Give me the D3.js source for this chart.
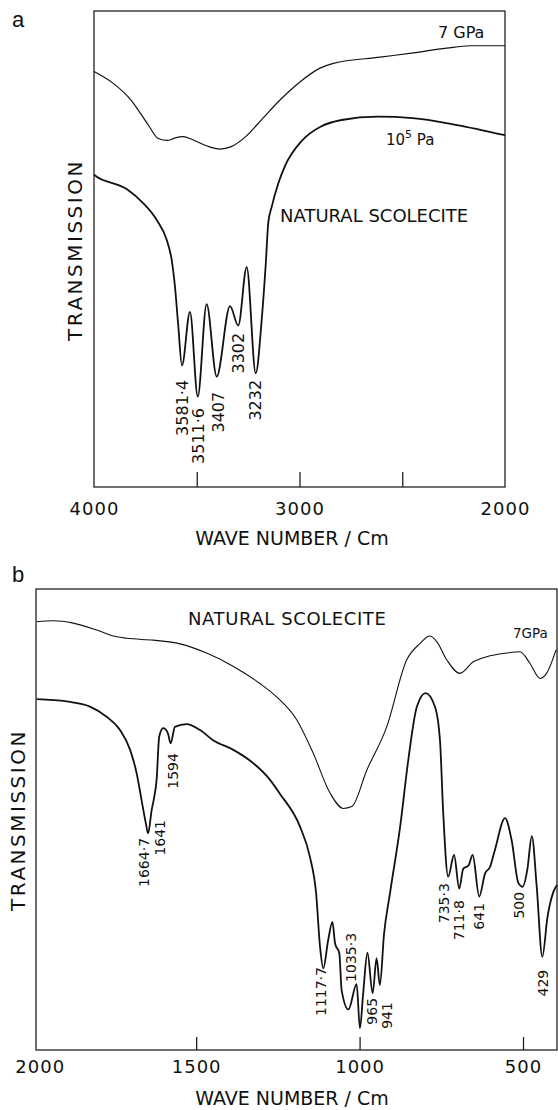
<!doctype html>
<html lang="en">
<head>
<meta charset="utf-8">
<script src="https://d3js.org/d3.v7.min.js"></script>
<style>
  body { margin: 0; background: #fff; }
  svg text { font-family: "DejaVu Sans", sans-serif; fill: #111; }
</style>
</head>
<body>
<script>
// ---- panel a : 4000 - 2000 cm-1 ----
var aWave7 = [4000, 3906, 3820, 3735, 3687, 3643, 3609, 3565, 3522, 3453, 3387, 3332, 3262, 3180, 3095, 2998, 2900, 2835, 2608, 2446, 2284, 2170, 2000];
var aTrans7 = [87.3, 84.8, 81.3, 76.0, 73.2, 72.8, 73.3, 73.6, 73.0, 71.7, 71.0, 71.5, 73.6, 77.4, 81.3, 85.1, 88.0, 89.0, 90.3, 91.2, 92.2, 92.7, 92.7];

var aWave0 = [4000, 3987, 3841, 3760, 3695, 3646, 3622, 3606, 3590, 3572, 3533, 3495, 3452, 3403, 3338, 3298, 3257, 3213, 3184, 3164, 3152, 3135, 3103, 3072, 2985, 2898, 2795, 2621, 2449, 2240, 2000];
var aTrans0 = [65.6, 65.2, 62.6, 59.6, 56.1, 51.9, 47.7, 42.1, 33.9, 25.5, 36.8, 19.0, 38.4, 23.2, 38.0, 33.9, 46.2, 23.9, 35.1, 47.0, 55.5, 58.9, 63.8, 67.3, 72.9, 75.7, 77.1, 77.8, 77.5, 76.1, 73.9];

var aPeakText = ["3581·4", "3511·6", "3407", "3302", "3232"];
var aPeakWave = [3573, 3494, 3397, 3299, 3217];
var aPeakTop = [22.5, 16.6, 20.0, 32.4, 22.5];

var aTickMarks = [3500, 3000, 2500];
var aTickLabels = [4000, 3000, 2000];

// ---- panel b : 2000 - 400 cm-1 ----
var bWave7 = [1988, 1937, 1876, 1804, 1753, 1712, 1631, 1549, 1468, 1386, 1305, 1254, 1192, 1142, 1090, 1050, 1024, 978, 917, 856, 815, 785, 764, 733, 693, 652, 611, 550, 509, 479, 448, 428, 399];
var bTrans7 = [92.9, 93.1, 92.6, 91.1, 89.8, 89.3, 88.9, 88.1, 86.1, 83.2, 79.5, 76.6, 71.6, 64.4, 55.7, 52.4, 52.8, 60.7, 70.1, 84.6, 88.2, 89.8, 88.6, 84.6, 81.7, 84.2, 85.3, 86.1, 86.4, 83.9, 80.6, 81.7, 86.8];

var bWave0 = [1988, 1896, 1825, 1774, 1733, 1702, 1682, 1667, 1654, 1647, 1636, 1629, 1621, 1613, 1601, 1587, 1578, 1565, 1529, 1488, 1448, 1386, 1325, 1274, 1244, 1182, 1152, 1133, 1121, 1111, 1096, 1083, 1075, 1062, 1055, 1034, 1009, 999, 989, 976, 960, 948, 938, 925, 907, 876, 851, 825, 798, 769, 754, 744, 729, 711, 695, 683, 667, 654, 634, 616, 601, 586, 555, 535, 514, 501, 487, 473, 458, 441, 425, 407, 396];
var bTrans0 = [76.1, 75.6, 74.5, 72.3, 69.4, 65.1, 60.0, 54.2, 49.2, 47.0, 52.1, 54.6, 58.6, 68.0, 69.8, 68.8, 66.5, 70.1, 70.7, 69.4, 67.2, 65.1, 62.2, 58.6, 55.6, 48.4, 41.9, 34.0, 22.4, 17.7, 23.9, 27.8, 23.1, 21.0, 13.0, 8.8, 14.3, 4.7, 12.3, 21.1, 12.3, 19.9, 14.1, 25.3, 34.0, 48.4, 62.9, 74.4, 77.4, 74.4, 67.2, 51.3, 37.6, 42.3, 35.0, 39.3, 40.0, 42.3, 33.3, 38.3, 39.7, 43.4, 50.3, 45.6, 36.2, 35.4, 39.0, 46.4, 35.4, 20.2, 28.9, 34.3, 35.8];

var bPeakText = ["1664·7", "1641", "1594", "1117·7", "1035·3", "965", "941", "735·3", "711·8", "641", "500", "429"];
var bPeakWave = [1660, 1611, 1572, 1118, 1026, 962, 915, 742, 696, 635, 512, 440];
var bPeakTop = [46.0, 49.9, 64.4, 18.0, 25.4, 11.3, 10.4, 36.2, 32.5, 31.9, 34.3, 17.4];

var bTickMarks = [1500, 1000, 500];
var bTickLabels = [2000, 1500, 1000, 500];

var width = 558, height = 1110;

var svg = d3.select("body").append("svg")
    .attr("width", width)
    .attr("height", height)
    .style("background", "#fff");

function zip(xs, ys) { return xs.map(function(x, i) { return [x, ys[i]]; }); }

function panel(opt) {
  var x = d3.scaleLinear().domain(opt.xDomain).range([opt.left, opt.right]);
  var y = d3.scaleLinear().domain([0, 100]).range([opt.bottom, opt.top]);
  var g = svg.append("g");

  // frame
  g.append("rect")
      .attr("x", opt.left).attr("y", opt.top)
      .attr("width", opt.right - opt.left).attr("height", opt.bottom - opt.top)
      .attr("fill", "none").attr("stroke", "#222").attr("stroke-width", 1.3);

  // inward tick marks
  var ticks = g.append("g")
      .attr("transform", "translate(0," + opt.bottom + ")")
      .call(d3.axisBottom(x).tickValues(opt.tickMarks).tickSizeInner(-opt.tickLen).tickSizeOuter(0).tickFormat(""));
  ticks.select(".domain").remove();
  ticks.selectAll("line").attr("stroke", "#222").attr("stroke-width", 1.3);

  // tick labels
  var labs = g.append("g")
      .attr("transform", "translate(0," + opt.bottom + ")")
      .call(d3.axisBottom(x).tickValues(opt.tickLabels).tickSize(0).tickPadding(opt.tickPad).tickFormat(d3.format("d")));
  labs.select(".domain").remove();
  labs.selectAll("text")
      .attr("font-family", "DejaVu Sans")
      .attr("font-size", 18)
      .attr("letter-spacing", 1)
      .attr("fill", "#111")
      .attr("dx", function(d) { return d === 2000 && opt.nudge ? opt.nudge : 0; });

  var line = d3.line()
      .x(function(d) { return x(d[0]); })
      .y(function(d) { return y(d[1]); })
      .curve(d3.curveMonotoneX);

  opt.series.forEach(function(s) {
    g.append("path")
        .datum(zip(s.wave, s.trans))
        .attr("d", line)
        .attr("fill", "none")
        .attr("stroke", "#111")
        .attr("stroke-width", s.width)
        .attr("stroke-linejoin", "round");
  });

  // peak labels, rotated
  g.selectAll(".peak")
      .data(opt.peakText)
    .enter().append("text")
      .attr("class", "peak")
      .attr("transform", function(d, i) {
        return "translate(" + x(opt.peakWave[i]) + "," + y(opt.peakTop[i]) + ") rotate(-90)";
      })
      .attr("text-anchor", "end")
      .attr("dy", "0.36em")
      .attr("font-size", opt.peakSize)
      .text(function(d) { return d; });

  // y title
  g.append("text")
      .attr("transform", "translate(" + opt.yTitleX + "," + opt.yTitleY + ") rotate(-90)")
      .attr("text-anchor", "middle")
      .attr("dy", "0.36em")
      .attr("font-size", 20)
      .attr("letter-spacing", 2.5)
      .text("TRANSMISSION");

  // x title
  g.append("text")
      .attr("x", 292).attr("y", opt.xTitleY)
      .attr("text-anchor", "middle")
      .attr("font-size", 19)
      .text("WAVE NUMBER / Cm");

  // panel letter
  g.append("text")
      .attr("x", 12).attr("y", opt.letterY)
      .style("font-family", "'Liberation Sans', Arial, sans-serif")
      .attr("font-size", 22)
      .text(opt.letter);

  return { g: g, x: x, y: y };
}

var pa = panel({
  xDomain: [4000, 2000], left: 94, right: 505, top: 11, bottom: 487,
  tickMarks: aTickMarks, tickLabels: aTickLabels, tickLen: 15, tickPad: 15,
  series: [{ wave: aWave7, trans: aTrans7, width: 1.2 }, { wave: aWave0, trans: aTrans0, width: 1.8 }],
  peakText: aPeakText, peakWave: aPeakWave, peakTop: aPeakTop, peakSize: 16,
  yTitleX: 75, yTitleY: 250, xTitleY: 545, letter: "a", letterY: 27
});

pa.g.append("text").attr("x", 438).attr("y", 38).attr("font-size", 16).text("7 GPa");
var lab5 = pa.g.append("text").attr("x", 386).attr("y", 145).attr("font-size", 15);
lab5.append("tspan").text("10");
lab5.append("tspan").attr("dy", -7).attr("font-size", 11).text("5");
lab5.append("tspan").attr("dy", 7).text(" Pa");
pa.g.append("text").attr("x", 280).attr("y", 222).attr("font-size", 18).text("NATURAL SCOLECITE");

var pb = panel({
  xDomain: [1990, 396], left: 36, right: 557, top: 589, bottom: 1050,
  tickMarks: bTickMarks, tickLabels: bTickLabels, tickLen: 13, tickPad: 10, nudge: 7,
  series: [{ wave: bWave7, trans: bTrans7, width: 1.1 }, { wave: bWave0, trans: bTrans0, width: 1.8 }],
  peakText: bPeakText, peakWave: bPeakWave, peakTop: bPeakTop, peakSize: 14,
  yTitleX: 18, yTitleY: 820, xTitleY: 1105, letter: "b", letterY: 582
});

pb.g.append("text").attr("x", 513).attr("y", 638).attr("font-size", 13.5).text("7GPa");
pb.g.append("text").attr("x", 188).attr("y", 625).attr("font-size", 18).attr("letter-spacing", 0.6).text("NATURAL SCOLECITE");
</script>
</body>
</html>
